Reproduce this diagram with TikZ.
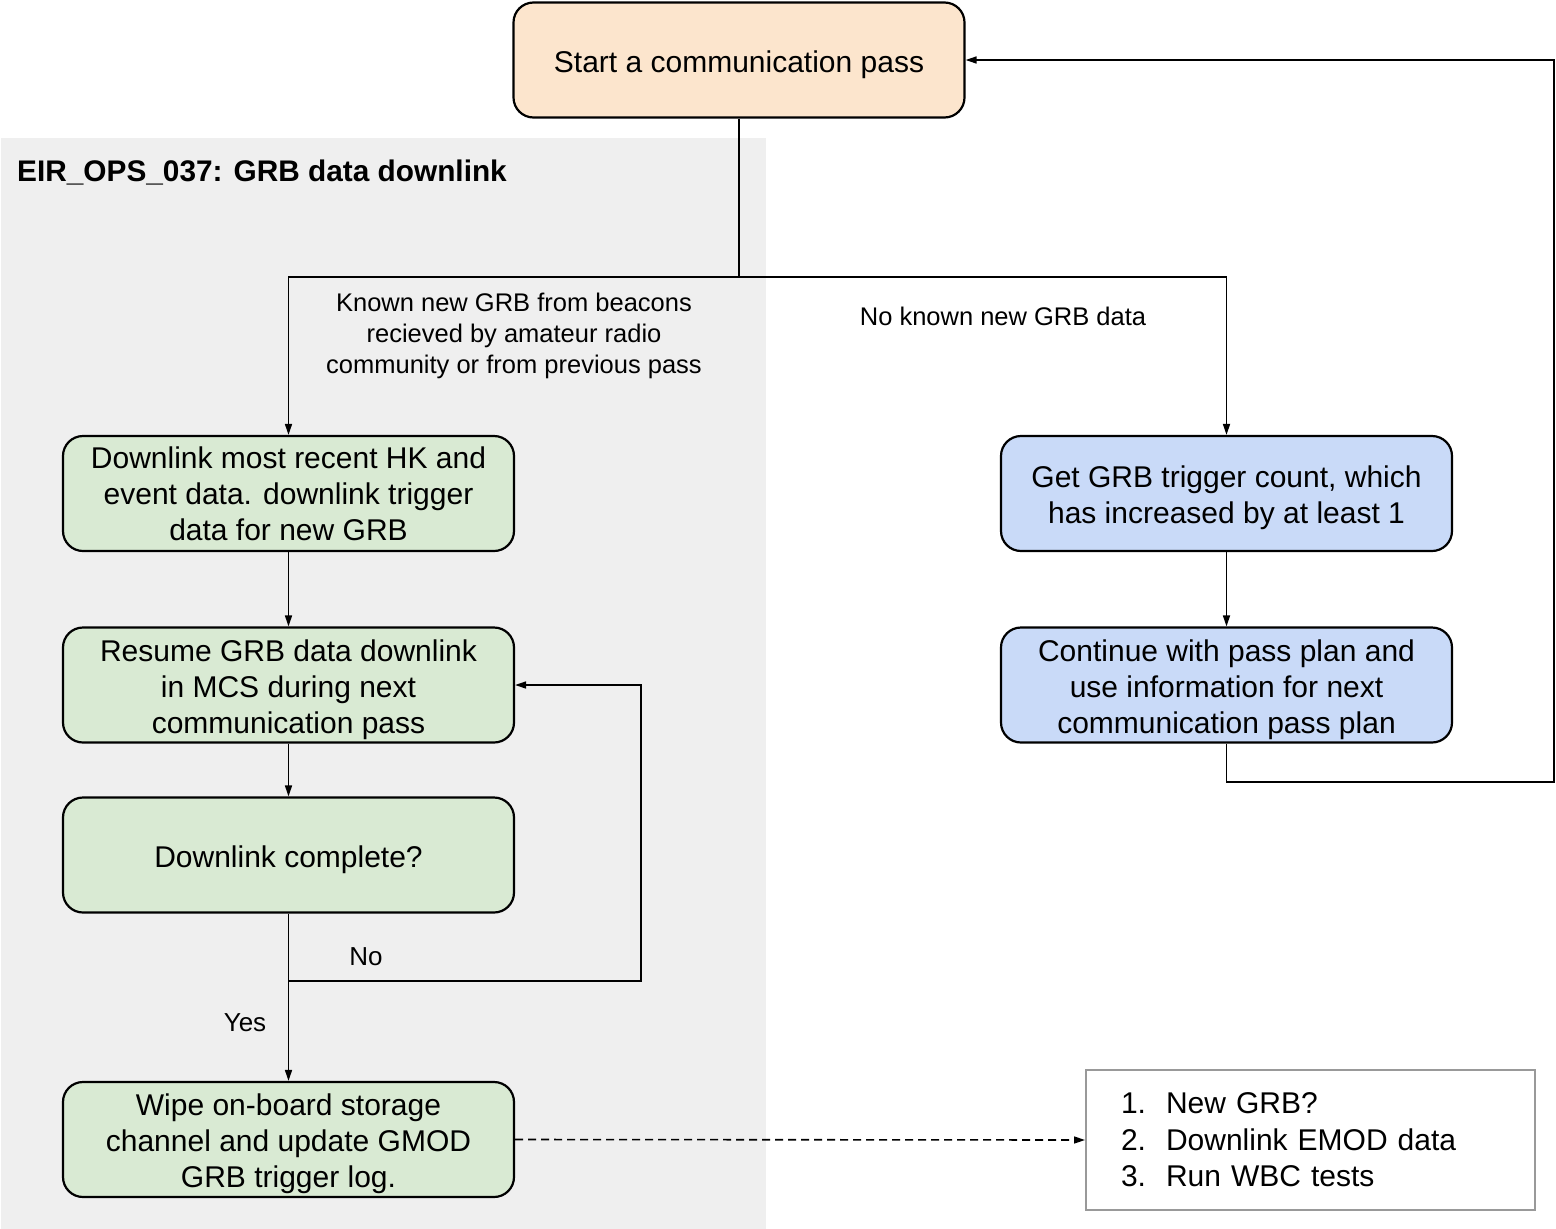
\documentclass[tikz,border=0pt]{standalone}
\usepackage{fontspec}
\setmainfont{Liberation Sans}
\usetikzlibrary{arrows.meta}
\definecolor{peach}{HTML}{FCE5CD}
\definecolor{mint}{HTML}{D9EAD3}
\definecolor{sky}{HTML}{C9DAF8}
\definecolor{panel}{HTML}{EFEFEF}
\definecolor{listborder}{HTML}{999999}
\newcommand{\toppad}{\rule{0pt}{30.5pt}}
\begin{document}
\begin{tikzpicture}[x=1pt,y=-1pt,
  stepbox/.style={draw, line width=2.2pt, rounded corners=20pt, minimum width=451pt,
    minimum height=115pt, align=center, inner sep=0pt, font=\fontsize{30}{36}\selectfont},
  conn/.style={line width=1.6pt},
  tip/.style={-{Triangle[length=11pt,width=7pt]}},
  lbl/.style={align=center, inner sep=0pt, font=\fontsize{25.5}{31}\selectfont}]
\useasboundingbox (0,0) rectangle (1556,1229);
\fill[panel] (1,138) rectangle (766,1229);
\node[anchor=west, inner sep=0pt, font=\bfseries\fontsize{29.8}{34}\selectfont] (title) at (17,173) {EIR\_OPS\_037: GRB data downlink};

\node[stepbox, fill=peach] (start) at (739,60) {\toppad Start a communication pass};
\node[stepbox, fill=mint] (b1) at (288.5,493.5) {Downlink most recent HK and\\event data. downlink trigger\\data for new GRB};
\node[stepbox, fill=mint] (b2) at (288.5,685) {\toppad Resume GRB data downlink\\in MCS during next\\communication pass};
\node[stepbox, fill=mint] (b3) at (288.5,855) {\toppad Downlink complete?};
\node[stepbox, fill=mint] (b4) at (288.5,1139.5) {\toppad Wipe on-board storage\\channel and update GMOD\\GRB trigger log.};
\node[stepbox, fill=sky] (r1) at (1226.5,493.5) {\toppad Get GRB trigger count, which\\has increased by at least 1};
\node[stepbox, fill=sky] (r2) at (1226.5,685) {\toppad Continue with pass plan and\\use information for next\\communication pass plan};
\node[draw=listborder, line width=2pt, fill=white, minimum width=449pt, minimum height=140pt,
  inner xsep=35pt, text width=379pt, align=left, font=\fontsize{30}{36.5}\selectfont] (list) at (1310.5,1140)
  {\makebox[45pt][l]{1.}New GRB?\\\makebox[45pt][l]{2.}Downlink EMOD data\\\makebox[45pt][l]{3.}Run WBC tests};

\coordinate (j) at (739,277);
\draw[conn] (start.south) -- (j);
\draw[conn,tip] (j) -| (b1.north);
\draw[conn,tip] (j) -| (r1.north);
\node[lbl] (l1) at (514,336) {Known new GRB from beacons\\recieved by amateur radio\\community or from previous pass};
\node[lbl] (l2) at (1003,316) {No known new GRB data};

\draw[conn,tip] (b1.south) -- (b2.north);
\draw[conn,tip] (b2.south) -- (b3.north);
\draw[conn,tip] (b3.south) -- (b4.north);
\coordinate (nj) at (288.5,981);
\coordinate (nr) at (641,981);
\draw[conn,tip] (nj) -- (nr) |- (b2.east);
\node[lbl, font=\fontsize{26}{31}\selectfont] (no) at (366,957) {No};
\node[lbl, font=\fontsize{26}{31}\selectfont] (yes) at (245,1023) {Yes};

\draw[conn,tip] (r1.south) -- (r2.north);
\coordinate (lb) at (1554,782);
\draw[conn,tip] (r2.south) |- (lb) |- (start.east);

\draw[conn,tip,dash pattern=on 8pt off 5pt] (b4.east) -- (list.west);
\end{tikzpicture}
\end{document}
